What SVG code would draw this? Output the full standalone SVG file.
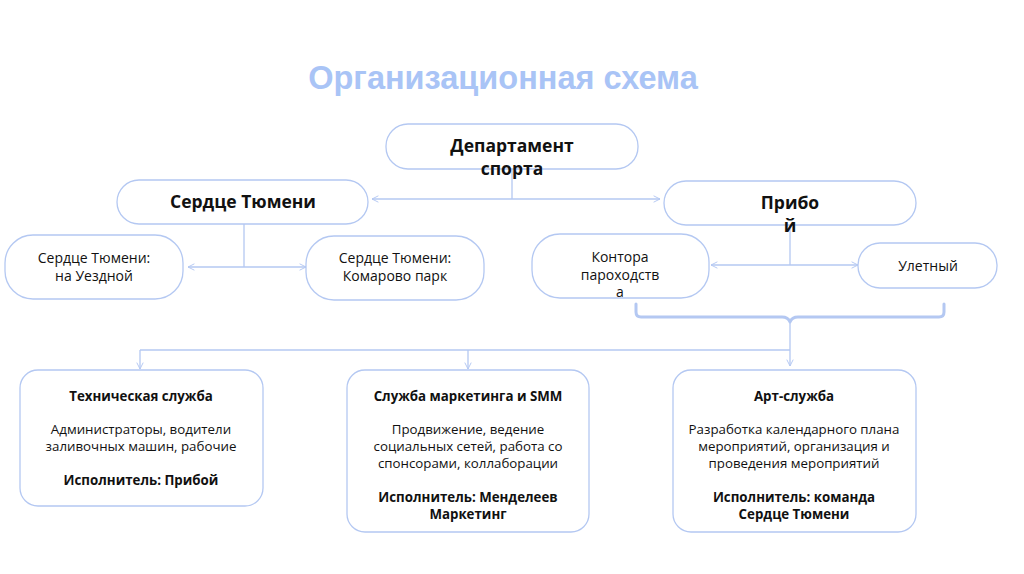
<svg xmlns="http://www.w3.org/2000/svg" width="1024" height="574" viewBox="0 0 1024 574">
<defs>
<marker id="ah" viewBox="0 0 10 10" refX="9" refY="5" markerWidth="8" markerHeight="8" markerUnits="userSpaceOnUse" orient="auto-start-reverse">
<path d="M1,1 L9,5 L1,9" fill="none" stroke="#b4c8f2" stroke-width="1.2"/>
</marker>
<style>
.box{fill:#fff;stroke:#b4c8f2;stroke-width:1.3}
.ln{fill:none;stroke:#b4c8f2;stroke-width:1.3}
.br{fill:none;stroke:#b4c8f2;stroke-width:3;stroke-linejoin:round;stroke-linecap:round}
text{font-family:"Open Sans","Noto Sans",sans-serif;fill:#111;text-anchor:middle}
.b{font-weight:bold}
.t1{font-size:17.5px}
.t2{font-size:14px}
.t3{font-size:13.3px}
.title{font-family:"Liberation Sans",Arial,sans-serif;font-weight:bold;font-size:32.5px;fill:#a9c4f6}
</style>
</defs>
<rect width="1024" height="574" fill="#fff"/>
<text class="title" x="503" y="89">Организационная схема</text>
<g id="connectors">
<path class="ln" d="M512,169 V199"/>
<path class="ln" d="M372,199 H660" marker-start="url(#ah)" marker-end="url(#ah)"/>
<path class="ln" d="M244,224 V267"/>
<path class="ln" d="M188,267 H306" marker-start="url(#ah)" marker-end="url(#ah)"/>
<path class="ln" d="M790,225 V265"/>
<path class="ln" d="M711,265 H858" marker-start="url(#ah)" marker-end="url(#ah)"/>
<path class="br" d="M636,304 V312 Q636,317 641,317 H782 Q788,317 790,322 Q792,317 798,317 H939 Q944,317 944,312 V304"/>
<path class="ln" d="M790,322 V366" marker-end="url(#ah)"/>
<path class="ln" d="M140,350 H790"/>
<path class="ln" d="M140,350 V369" marker-end="url(#ah)"/>
<path class="ln" d="M468,350 V369" marker-end="url(#ah)"/>
</g>
<g id="dept">
<rect class="box" x="386" y="124" width="252" height="45" rx="22"/>
<text class="b t1" x="512" y="152">Департамент</text>
<text class="b t1" x="512" y="175">спорта</text>
</g>
<g id="serdce">
<rect class="box" x="117" y="180" width="251" height="44" rx="22"/>
<text class="b t1" x="243" y="208">Сердце Тюмени</text>
</g>
<g id="priboy">
<rect class="box" x="664" y="181" width="252" height="44" rx="22"/>
<text class="b t1" x="790" y="209">Прибо</text>
<text class="b t1" x="790" y="232">й</text>
</g>
<g id="uezdnoy">
<rect class="box" x="5" y="235" width="178" height="64" rx="28"/>
<text class="t2" x="94" y="263">Сердце Тюмени:</text>
<text class="t2" x="94" y="281">на Уездной</text>
</g>
<g id="komarovo">
<rect class="box" x="306" y="236" width="178" height="64" rx="28"/>
<text class="t2" x="395" y="263">Сердце Тюмени:</text>
<text class="t2" x="395" y="281">Комарово парк</text>
</g>
<g id="kontora">
<rect class="box" x="532" y="234" width="177" height="64" rx="28"/>
<text class="t2" x="620" y="262">Контора</text>
<text class="t2" x="620" y="280">пароходств</text>
<text class="t2" x="620" y="297">а</text>
</g>
<g id="uletny">
<rect class="box" x="858" y="243" width="139" height="45" rx="22"/>
<text class="t2" x="928" y="271">Улетный</text>
</g>
<g id="tech">
<rect class="box" x="20" y="370" width="243" height="136" rx="18"/>
<text class="b t3" x="141" y="401">Техническая служба</text>
<text class="t3" x="141" y="434">Администраторы, водители</text>
<text class="t3" x="141" y="451">заливочных машин, рабочие</text>
<text class="b t3" x="141" y="485">Исполнитель: Прибой</text>
</g>
<g id="marketing">
<rect class="box" x="347" y="370" width="242" height="162" rx="18"/>
<text class="b t3" x="468" y="401">Служба маркетинга и SMM</text>
<text class="t3" x="468" y="434">Продвижение, ведение</text>
<text class="t3" x="468" y="451">социальных сетей, работа со</text>
<text class="t3" x="468" y="468">спонсорами, коллаборации</text>
<text class="b t3" x="468" y="502">Исполнитель: Менделеев</text>
<text class="b t3" x="468" y="519">Маркетинг</text>
</g>
<g id="art">
<rect class="box" x="673" y="370" width="243" height="162" rx="18"/>
<text class="b t3" x="794" y="401">Арт-служба</text>
<text class="t3" x="794" y="434">Разработка календарного плана</text>
<text class="t3" x="794" y="451">мероприятий, организация и</text>
<text class="t3" x="794" y="468">проведения мероприятий</text>
<text class="b t3" x="794" y="502">Исполнитель: команда</text>
<text class="b t3" x="794" y="519">Сердце Тюмени</text>
</g>
</svg>
